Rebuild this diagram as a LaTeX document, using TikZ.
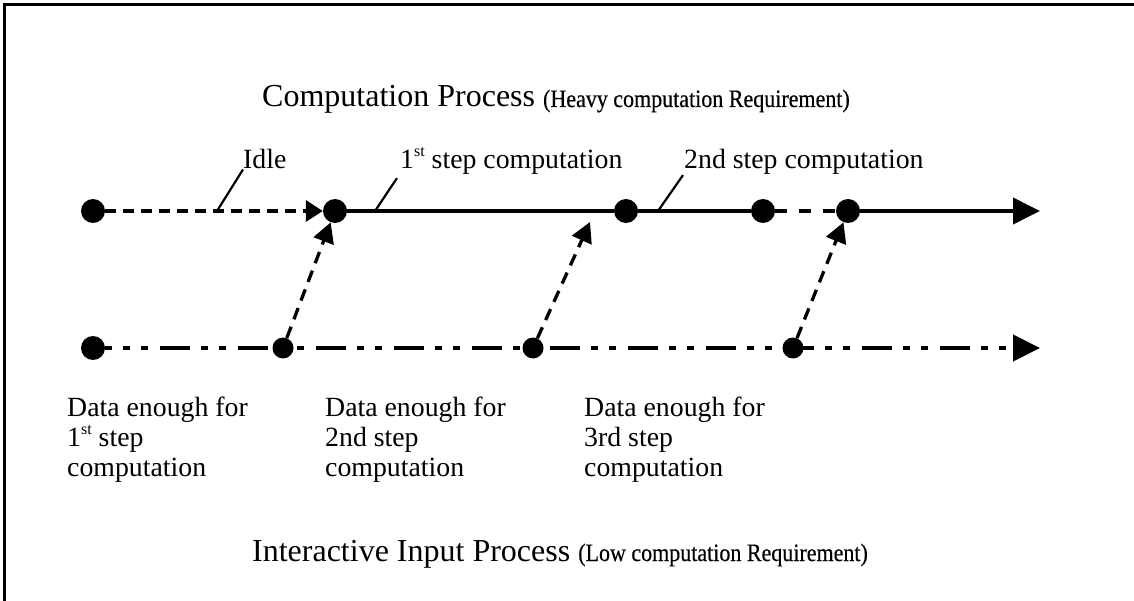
\documentclass[tikz,border=0pt]{standalone}
\usepackage{fontspec}
\setmainfont{Liberation Serif}
\newfontfamily\subfont[FakeStretch=0.88,FakeBold=0.4]{Liberation Serif}
\usetikzlibrary{arrows.meta}
\newcommand{\supst}[1]{\raisebox{0.45em}{\fontsize{16}{16}\selectfont #1}}
\tikzset{
  dot/.style={circle,fill=black,inner sep=0pt,minimum size=24pt},
  sdot/.style={circle,fill=black,inner sep=0pt,minimum size=21pt},
  mainline/.style={line width=3.8pt},
  idleline/.style={line width=3.4pt,dash pattern=on 11pt off 7pt},
  gapline/.style={line width=3.4pt,dash pattern=on 12pt off 12pt},
  inputline/.style={line width=4.4pt,dash pattern=on 30pt off 11pt on 7pt off 11pt on 7pt off 12pt,dash phase=23pt},
  trigline/.style={line width=3.3pt,dash pattern=on 12pt off 8pt},
  bigtip/.style={-{Triangle[length=27pt,width=26pt]}},
  smalltip/.style={-{Triangle[length=20pt,width=21pt]}},
  leader/.style={line width=2.2pt},
  lbl/.style={font=\fontsize{27.8}{30}\selectfont,inner sep=0pt},
  title/.style={inner sep=0pt},
  frame/.style={line width=3pt}
}
\begin{document}
\begin{tikzpicture}[x=1pt,y=-1pt]
\useasboundingbox (0,0) rectangle (1134,601);
% frame
\coordinate (fr1) at (4,601);
\coordinate (fr2) at (4,5);
\coordinate (fr3) at (1134,5);
\draw[frame] (fr1) -- (fr2) -- (fr3);

% titles
\node[title,anchor=base] (ttop) at (556,107)
  {\fontsize{32}{34}\selectfont Computation Process {\subfont\fontsize{25}{26}\selectfont (Heavy computation Requirement)}};
\node[title,anchor=base] (tbot) at (560,561)
  {\fontsize{32}{34}\selectfont Interactive Input Process {\subfont\fontsize{25}{26}\selectfont (Low computation Requirement)}};

% top line nodes
\node[dot] (a) at (93,211) {};
\node[dot] (b) at (335,211) {};
\node[dot] (c) at (626,211) {};
\node[dot] (d) at (763,211) {};
\node[dot] (e) at (848,211) {};
\coordinate (tend) at (1040,211);
\coordinate (t2) at (590,222);

% bottom line nodes
\node[dot] (p0) at (93,348) {};
\node[sdot] (p1) at (283,348) {};
\node[sdot] (p2) at (533,348) {};
\node[sdot] (p3) at (793,348) {};
\coordinate (bend) at (1040,348);

% top process line
\draw[idleline,-{Triangle[length=17pt,width=21pt]}] (a) -- (b);
\draw[mainline] (b) -- (c);
\draw[mainline] (c) -- (d);
\draw[gapline] (d) -- (e);
\draw[mainline,bigtip] (e) -- (tend);

% bottom process line
\draw[inputline,bigtip] (p0) -- (bend);

% trigger arrows
\draw[trigline,smalltip] (p1) -- (b);
\draw[trigline,smalltip] (p2) -- (t2);
\draw[trigline,smalltip] (p3) -- (e);

% labels with leaders
\node[lbl,anchor=base west] (lidle) at (243,169) {Idle};
\node[lbl,anchor=base west] (lone) at (400,169) {1\supst{st} step computation};
\node[lbl,anchor=base west] (ltwo) at (684,169) {2nd step computation};
\coordinate (qi) at (217,211);
\coordinate (qo) at (375,211);
\coordinate (qt) at (658,211);
\draw[leader] (qi) -- (lidle.south west);
\draw[leader] (qo) -- ([xshift=-3pt,yshift=-3pt]lone.south west);
\draw[leader] (qt) -- ([xshift=-1pt]ltwo.south west);

% data labels
\node[lbl,anchor=north west,align=left] (d1) at (67,397)
  {Data enough for\\1\supst{st} step\\computation};
\node[lbl,anchor=north west,align=left] (d2) at (325,397)
  {Data enough for\\2nd step\\computation};
\node[lbl,anchor=north west,align=left] (d3) at (584,397)
  {Data enough for\\3rd step\\computation};
\end{tikzpicture}
\end{document}
